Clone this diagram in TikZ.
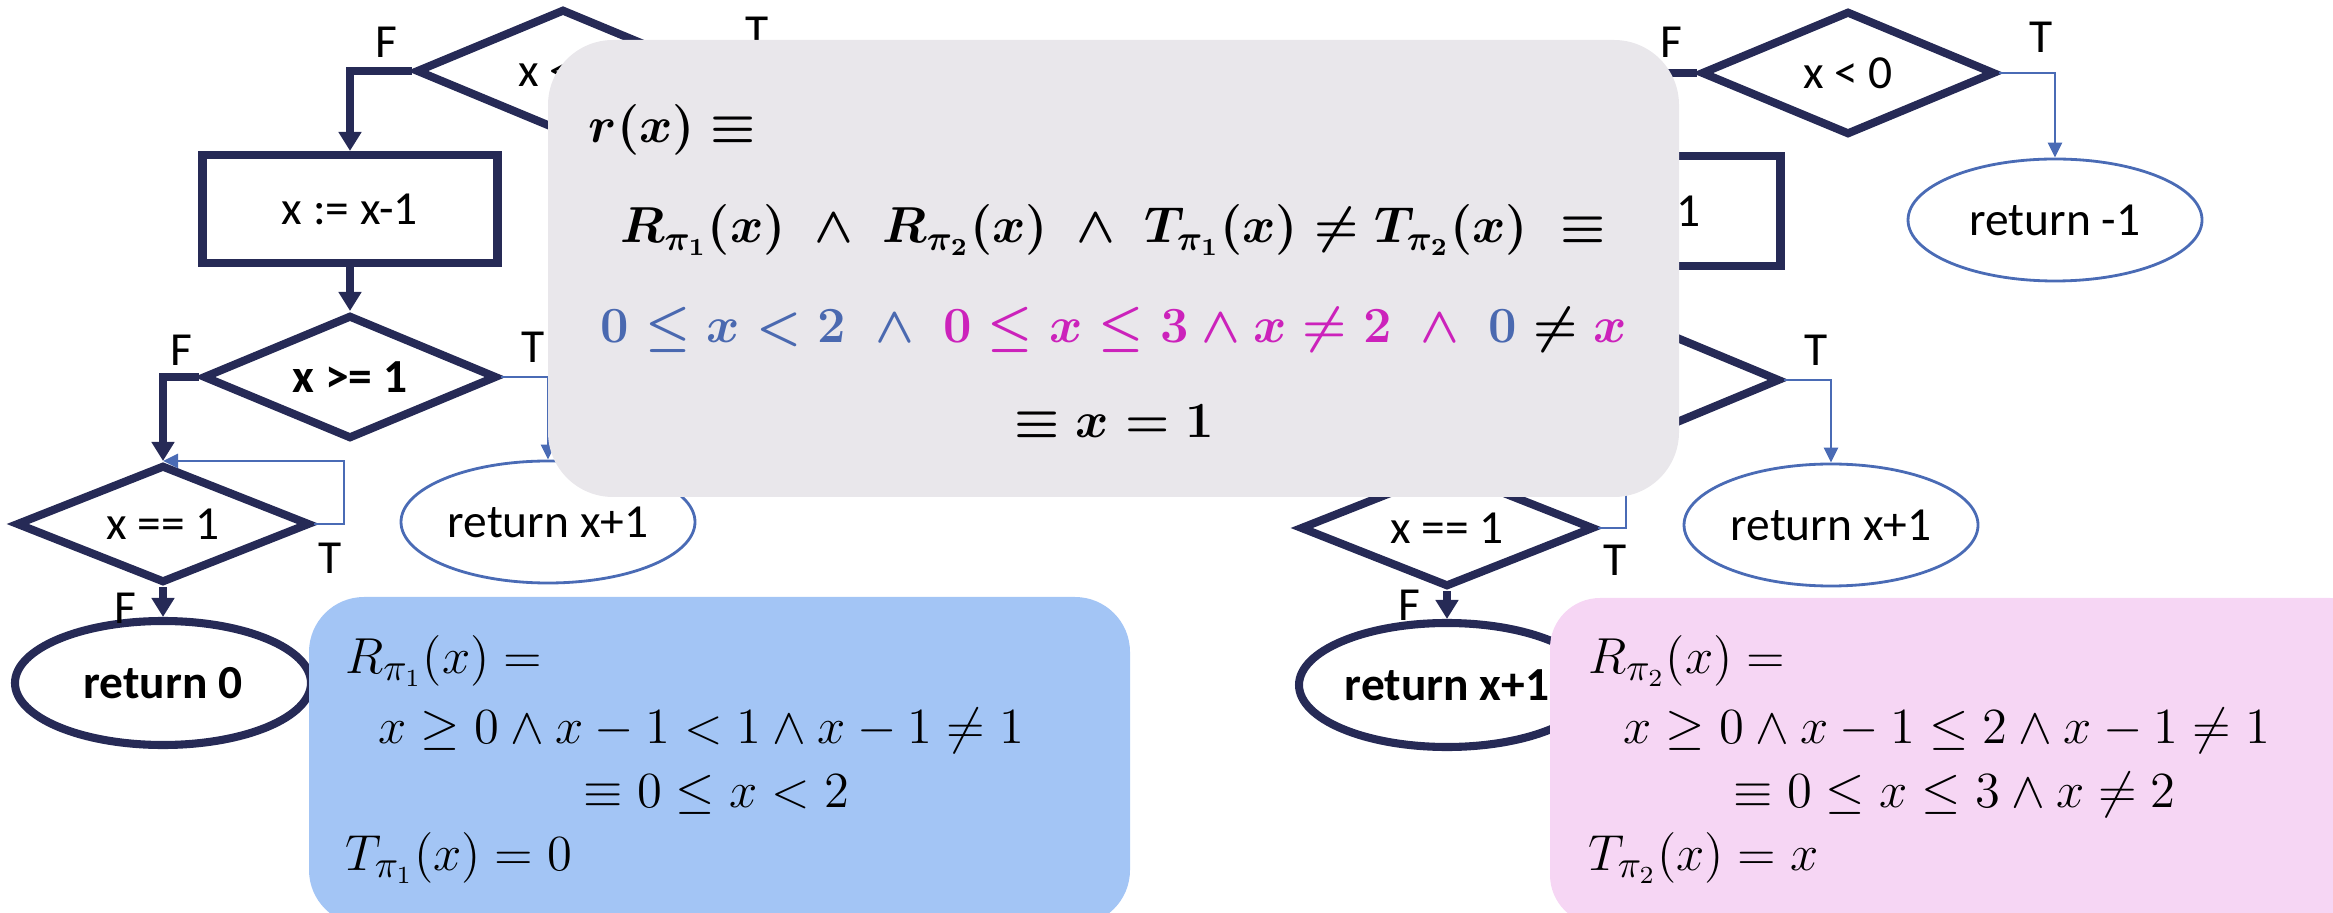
\documentclass[tikz,border=0pt]{standalone}
\usepackage{amssymb,amsmath}
\usepackage{fontspec}
\setmainfont{Carlito}
\usetikzlibrary{arrows.meta, shapes, positioning}

\definecolor{flownavy}{HTML}{262A56}
\definecolor{flowblue}{HTML}{4A6BB5}
\definecolor{mathblue}{HTML}{4A69B0}
\definecolor{mathpink}{HTML}{CC22BB}
\definecolor{boxgray}{HTML}{E9E7EB}
\definecolor{boxblue}{HTML}{A3C5F5}
\definecolor{boxpink}{HTML}{F6D6F4}

\begin{document}
\begin{tikzpicture}[>={Triangle[length=0.19cm,width=0.22cm]},
    cond/.style={diamond, draw=flownavy, line width=2.3pt, aspect=2.37, minimum width=2.94cm, minimum height=1.24cm, inner sep=0pt, font=\fontsize{13.5}{15}\selectfont},
    stmt/.style={rectangle, draw=flownavy, line width=2.3pt, minimum width=2.95cm, minimum height=1.08cm, font=\fontsize{13.5}{15}\selectfont},
    ret/.style={ellipse, draw=flownavy, line width=2.3pt, minimum width=2.96cm, minimum height=1.24cm, inner sep=0pt, font=\fontsize{13.5}{15}\selectfont\bfseries},
    retthin/.style={ellipse, draw=flowblue, line width=0.8pt, minimum width=2.94cm, minimum height=1.22cm, inner sep=0pt, font=\fontsize{13.5}{15}\selectfont},
    flow/.style={->, draw=flownavy, line width=2.3pt},
    flowthin/.style={-{Triangle[length=0.15cm,width=0.14cm]}, draw=flowblue, line width=0.8pt},
    lab/.style={font=\fontsize{13.5}{15}\selectfont, inner sep=0pt},
    mathline/.style={anchor=base west, inner sep=0pt, font=\fontsize{15}{18}\selectfont},
    boldline/.style={anchor=base, inner sep=0pt, font=\fontsize{14.4}{18}\selectfont}
]
    \useasboundingbox (0,0) rectangle (23.33,-9.13);

    % Program pi_1
    \node[cond] (d1a) at (5.63,-0.71) {x < 0};
    \node[stmt] (b1) at (3.50,-2.09) {x := x-1};
    \node[cond, font=\fontsize{13.5}{15}\selectfont\bfseries] (d1b) at (3.50,-3.77) {x >= 1};
    \node[cond, minimum height=1.18cm] (d1c) at (1.63,-5.24) {x == 1};
    \node[ret] (e1a) at (1.63,-6.83) {return 0};
    \node[retthin] (e1b) at (5.48,-5.22) {return x+1};

    \draw[flow] (d1a.west) -| (b1.north);
    \draw[flow] (b1.south) -- (d1b.north);
    \draw[flow] (d1b.west) -| (d1c.north);
    \draw[flowthin] (d1b.east) -| (e1b.north);
    \draw[flowthin] (d1c.east) -- ++(0.30,0) |- (d1c.north);
    \draw[flow] (d1c.south) -- (e1a.north);

    \node[lab] (f1a) at (3.86,-0.42) {F};
    \node[lab] (t1a) at (7.57,-0.32) {T};
    \node[lab] (f1b) at (1.81,-3.50) {F};
    \node[lab] (t1b) at (5.33,-3.47) {T};
    \node[lab] (t1c) at (3.30,-5.58) {T};
    \node[lab] (f1c) at (1.25,-6.08) {F};

    % Program pi_2
    \node[cond] (d2a) at (18.48,-0.73) {x < 0};
    \node[stmt, minimum height=1.10cm] (b2) at (16.33,-2.11) {x := x-1};
    \node[cond, font=\fontsize{13.5}{15}\selectfont\bfseries] (d2b) at (16.33,-3.80) {x > 2};
    \node[cond, minimum height=1.18cm] (d2c) at (14.47,-5.28) {x == 1};
    \node[ret] (e2a) at (14.47,-6.85) {return x+1};
    \node[retthin] (e2b) at (18.31,-5.25) {return x+1};
    \node[retthin] (e2c) at (20.55,-2.20) {return -1};

    \draw[flow] (d2a.west) -| (b2.north);
    \draw[flowthin] (d2a.east) -| (e2c.north);
    \draw[flow] (b2.south) -- (d2b.north);
    \draw[flow] (d2b.west) -| (d2c.north);
    \draw[flowthin] (d2b.east) -| (e2b.north);
    \draw[flowthin] (d2c.east) -- ++(0.28,0) |- (d2c.north);
    \draw[flow] (d2c.south) -- (e2a.north);

    \node[lab] (f2a) at (16.71,-0.42) {F};
    \node[lab] (t2a) at (20.41,-0.37) {T};
    \node[lab] (t2b) at (18.16,-3.50) {T};
    \node[lab] (t2c) at (16.15,-5.60) {T};
    \node[lab] (f2c) at (14.09,-6.05) {F};

    % r(x)
    \fill[boxgray, rounded corners=0.65cm] (5.48,-0.40) rectangle (16.79,-4.97);
    \node[boldline, anchor=base west] (r0) at (5.88,-1.43) {{\boldmath$r(x) \equiv$}};
    \node[boldline] (r1) at (11.13,-2.43)
        {{\boldmath$R_{\pi_1}(x) \;\wedge\; R_{\pi_2}(x) \;\wedge\; T_{\pi_1}(x) \neq T_{\pi_2}(x) \;\equiv$}};
    \node[boldline] (r2) at (11.14,-3.43)
        {{\boldmath$\color{mathblue} 0 \leq x < 2 \;\wedge\; \color{mathpink} 0 \leq x \leq 3 \wedge x \neq 2 \;\wedge\; \color{mathblue} 0 \color{black} \neq \color{mathpink} x$}};
    \node[boldline] (r3) at (11.14,-4.38) {{\boldmath$\equiv x = 1$}};

    % R_pi1, T_pi1
    \fill[boxblue, rounded corners=0.55cm] (3.09,-5.97) rectangle (11.30,-9.25);
    \node[mathline] (p1a) at (3.45,-6.73) {$R_{\pi_1}(x) =$};
    \node[mathline] (p1b) at (3.78,-7.43) {$x \geq 0 \wedge x-1 < 1 \wedge x-1 \neq 1$};
    \node[mathline] (p1c) at (5.83,-8.07) {$\equiv 0 \leq x < 2$};
    \node[mathline] (p1d) at (3.45,-8.70) {$T_{\pi_1}(x) = 0$};

    % R_pi2, T_pi2
    \fill[boxpink, rounded corners=0.5cm] (15.50,-5.98) rectangle (23.80,-9.25);
    \node[mathline] (p2a) at (15.88,-6.73) {$R_{\pi_2}(x) =$};
    \node[mathline] (p2b) at (16.23,-7.43) {$x \geq 0 \wedge x-1 \leq 2 \wedge x-1 \neq 1$};
    \node[mathline] (p2c) at (17.33,-8.07) {$\equiv 0 \leq x \leq 3 \wedge x \neq 2$};
    \node[mathline] (p2d) at (15.88,-8.70) {$T_{\pi_2}(x) = x$};
\end{tikzpicture}
\end{document}
